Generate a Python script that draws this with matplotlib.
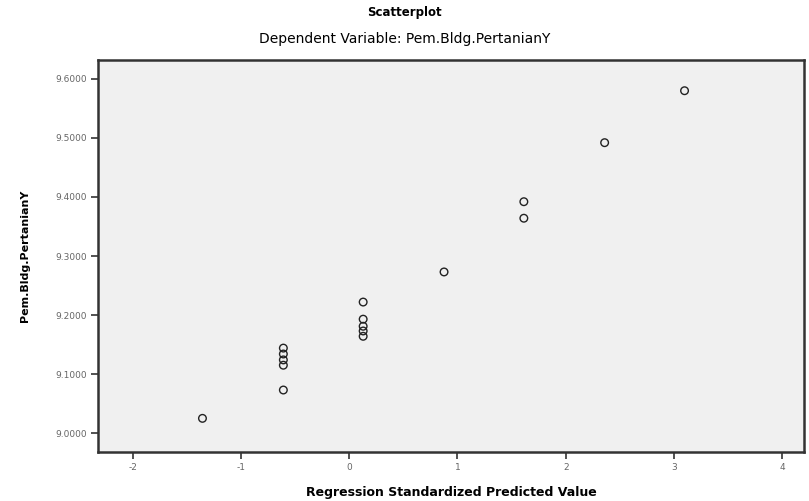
import matplotlib.pyplot as plt

# standardized predicted value vs observed
pred_x = [-1.355, -0.608, -0.608, -0.608, -0.608, -0.608,
          0.129, 0.129, 0.129, 0.129, 0.129,
          0.876, 1.613, 1.613, 2.359, 3.097]
obs_y = [9.025, 9.144, 9.134, 9.124, 9.115, 9.073,
         9.222, 9.193, 9.181, 9.173, 9.164,
         9.273, 9.392, 9.364, 9.492, 9.580]

x_ticks = [-2, -1, 0, 1, 2, 3, 4]
y_ticks = [9.0, 9.1, 9.2, 9.3, 9.4, 9.5, 9.6]

plt.rcParams['font.family'] = ['DejaVu Sans']

fig = plt.figure(figsize=(8.09, 5.01), dpi=100)
ax = fig.add_axes([0.1211, 0.0978, 0.8727, 0.7824])
ax.set_facecolor('#f0f0f0')

ax.scatter(pred_x, obs_y, s=30, facecolors='none', edgecolors='#222222', linewidths=1.0)

ax.set_xlim(-2.32, 4.2)
ax.set_ylim(8.968, 9.632)
ax.set_xticks(x_ticks)
ax.set_xticklabels([str(v) for v in x_ticks], fontsize=6.5, color='#666666')
ax.set_yticks(y_ticks)
ax.set_yticklabels(['%.4f' % v for v in y_ticks], fontsize=6.5, color='#666666')
ax.tick_params(direction='out', length=5, width=1.2, color='#333333', pad=3)

for s in ax.spines.values():
    s.set_linewidth(1.8)
    s.set_color('#333333')

fig.text(0.5, 0.975, 'Scatterplot', ha='center', va='center', fontsize=8.5, fontweight='bold')
fig.text(0.5, 0.922, 'Dependent Variable: Pem.Bldg.PertanianY', ha='center', va='center', fontsize=10)
ax.set_xlabel('Regression Standardized Predicted Value', fontsize=9, fontweight='bold', labelpad=10)
ax.set_ylabel('Pem.Bldg.PertanianY', fontsize=8, fontweight='bold', labelpad=18)

plt.savefig('out.png', dpi=100)
